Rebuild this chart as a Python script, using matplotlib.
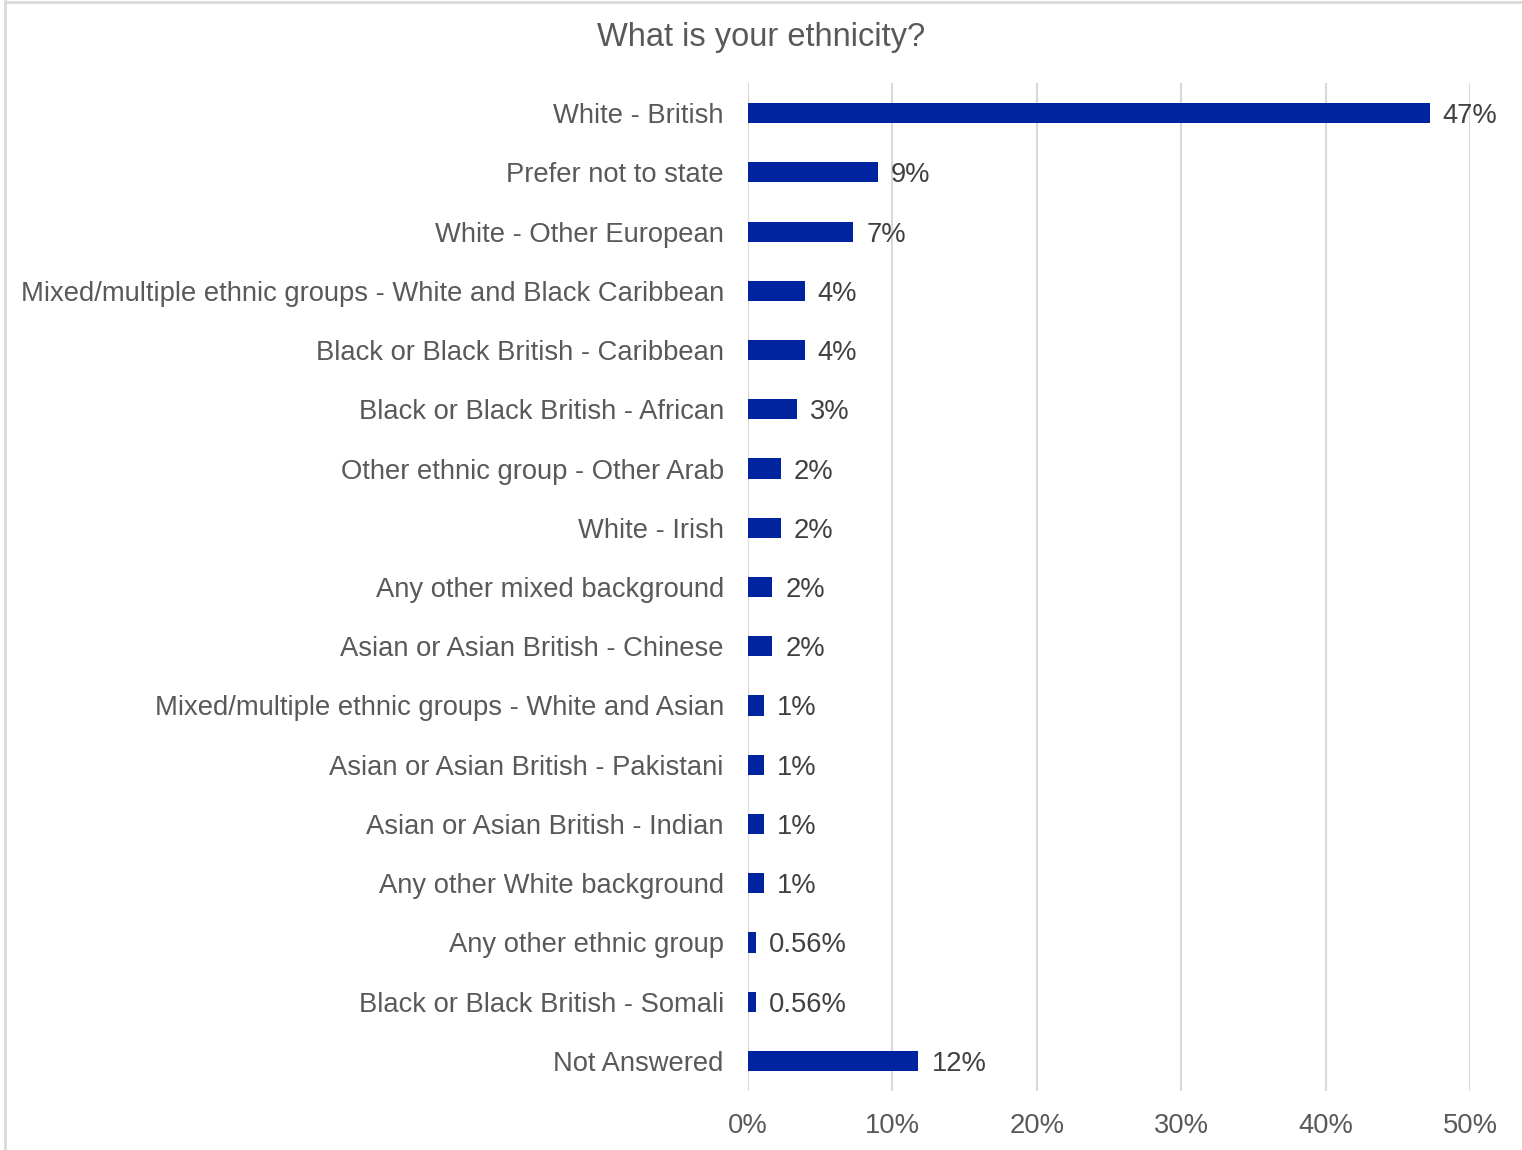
import matplotlib.pyplot as plt
from matplotlib.lines import Line2D
from matplotlib.ticker import FuncFormatter

plt.rcParams['font.family'] = ['Liberation Sans', 'DejaVu Sans']

categories = [
    "White - British",
    "Prefer not to state",
    "White - Other European",
    "Mixed/multiple ethnic groups - White and Black Caribbean",
    "Black or Black British - Caribbean",
    "Black or Black British - African",
    "Other ethnic group - Other Arab",
    "White - Irish",
    "Any other mixed background",
    "Asian or Asian British - Chinese",
    "Mixed/multiple ethnic groups - White and Asian",
    "Asian or Asian British - Pakistani",
    "Asian or Asian British - Indian",
    "Any other White background",
    "Any other ethnic group",
    "Black or Black British - Somali",
    "Not Answered",
]
values = [47.19, 8.99, 7.30, 3.93, 3.93, 3.37, 2.25, 2.25, 1.69, 1.69,
          1.12, 1.12, 1.12, 1.12, 0.56, 0.56, 11.80]
labels = ["47%", "9%", "7%", "4%", "4%", "3%", "2%", "2%", "2%", "2%",
          "1%", "1%", "1%", "1%", "0.56%", "0.56%", "12%"]
xticks = [0, 10, 20, 30, 40, 50]

bar_color = "#0023a0"
text_gray = "#595959"
grid_gray = "#d9d9d9"
fs = 19.7

fig = plt.figure(figsize=(15.22, 11.5), dpi=100)
ax = fig.add_axes([0.4915, 0.0517, 0.4744, 0.8757])

ypos = list(range(len(categories)))
ax.barh(ypos, values, height=0.34, color=bar_color, zorder=3)
for y, v, lab in zip(ypos, values, labels):
    ax.text(v + 0.9, y, lab, va="center_baseline", ha="left", fontsize=fs,
            color="#404040", zorder=4)

ax.set_ylim(len(categories) - 0.5, -0.5)
ax.set_xlim(0, 50)
ax.set_yticks(ypos)
ax.set_yticklabels(categories)
ax.set_xticks(xticks)
ax.xaxis.set_major_formatter(FuncFormatter(lambda v, p: f"{v:.0f}%"))
ax.tick_params(axis="y", length=0, pad=17.5, labelsize=fs, labelcolor=text_gray)
ax.tick_params(axis="x", length=0, pad=16, labelsize=fs, labelcolor=text_gray)
ax.grid(axis="x", color=grid_gray, linewidth=1.5, zorder=0)
for s in ax.spines.values():
    s.set_visible(False)

fig.text(0.5, 0.967, "What is your ethnicity?", ha="center", va="center",
         fontsize=23.5, color=text_gray)

# light frame round the chart
fig.add_artist(Line2D([0.003, 0.003], [0, 0.999], color=grid_gray, lw=2,
                      transform=fig.transFigure))
fig.add_artist(Line2D([0.003, 1], [0.998, 0.998], color=grid_gray, lw=2,
                      transform=fig.transFigure))

fig.savefig("out.png", dpi=100)
